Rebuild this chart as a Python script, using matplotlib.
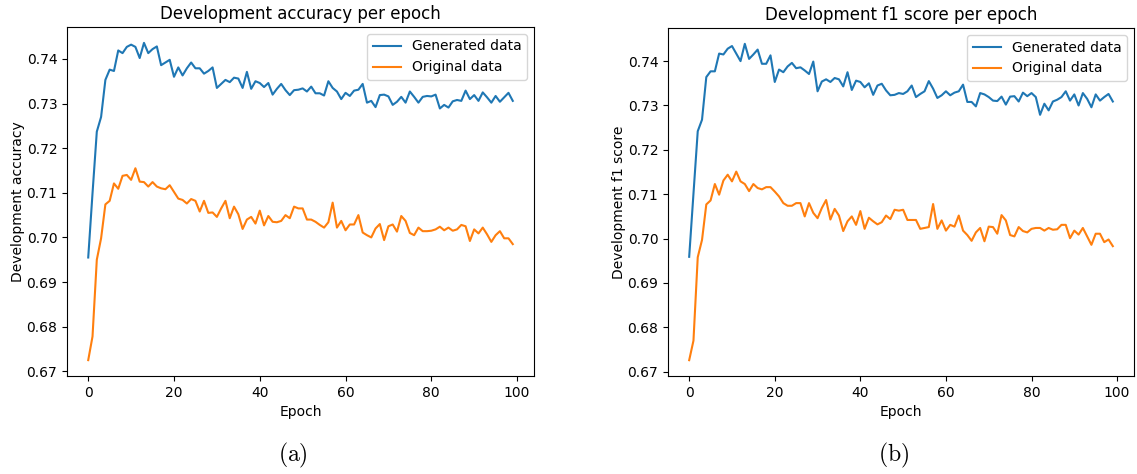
import matplotlib
matplotlib.use("Agg")
import matplotlib.pyplot as plt
import numpy as np

epochs = list(range(100))

acc_generated = [
    0.6955, 0.7099, 0.7237, 0.7270, 0.7353, 0.7376, 0.7373, 0.7419, 0.7413, 0.7427,
    0.7432, 0.7427, 0.7402, 0.7436, 0.7413, 0.7422, 0.7428, 0.7386, 0.7392, 0.7398,
    0.7360, 0.7381, 0.7363, 0.7379, 0.7392, 0.7379, 0.7379, 0.7367, 0.7373, 0.7381,
    0.7335, 0.7344, 0.7353, 0.7348, 0.7358, 0.7356, 0.7335, 0.7371, 0.7333, 0.7350,
    0.7346, 0.7337, 0.7346, 0.7320, 0.7333, 0.7344, 0.7330, 0.7319, 0.7330, 0.7331,
    0.7334, 0.7327, 0.7338, 0.7323, 0.7323, 0.7318, 0.7350, 0.7335, 0.7327, 0.7310,
    0.7324, 0.7317, 0.7329, 0.7331, 0.7344, 0.7302, 0.7306, 0.7292, 0.7319, 0.7320,
    0.7316, 0.7297, 0.7304, 0.7315, 0.7302, 0.7327, 0.7315, 0.7302, 0.7315, 0.7317,
    0.7316, 0.7320, 0.7289, 0.7297, 0.7291, 0.7305, 0.7308, 0.7306, 0.7329, 0.7310,
    0.7319, 0.7306, 0.7325, 0.7314, 0.7302, 0.7317, 0.7304, 0.7314, 0.7324, 0.7306,
]

acc_original = [
    0.6725, 0.6778, 0.6950, 0.6998, 0.7074, 0.7082, 0.7121, 0.7109, 0.7138, 0.7140,
    0.7129, 0.7155, 0.7125, 0.7124, 0.7114, 0.7124, 0.7114, 0.7110, 0.7108, 0.7117,
    0.7102, 0.7087, 0.7084, 0.7076, 0.7086, 0.7082, 0.7058, 0.7082, 0.7055, 0.7056,
    0.7046, 0.7065, 0.7082, 0.7043, 0.7069, 0.7052, 0.7019, 0.7040, 0.7046, 0.7031,
    0.7060, 0.7027, 0.7048, 0.7035, 0.7034, 0.7037, 0.7050, 0.7043, 0.7069, 0.7065,
    0.7065, 0.7040, 0.7040, 0.7035, 0.7028, 0.7022, 0.7034, 0.7078, 0.7022, 0.7037,
    0.7016, 0.7029, 0.7029, 0.7050, 0.7011, 0.7005, 0.7000, 0.7020, 0.7030, 0.6994,
    0.7025, 0.7029, 0.7013, 0.7048, 0.7037, 0.7010, 0.7005, 0.7022, 0.7014, 0.7014,
    0.7015, 0.7018, 0.7024, 0.7016, 0.7022, 0.7015, 0.7018, 0.7028, 0.7025, 0.6992,
    0.7018, 0.7009, 0.7022, 0.7007, 0.6990, 0.7005, 0.7014, 0.6998, 0.6998, 0.6985,
]

f1_generated = [
    0.6959, 0.7101, 0.7242, 0.7268, 0.7364, 0.7377, 0.7377, 0.7417, 0.7415, 0.7428,
    0.7434, 0.7417, 0.7400, 0.7439, 0.7405, 0.7415, 0.7426, 0.7394, 0.7394, 0.7413,
    0.7353, 0.7381, 0.7375, 0.7388, 0.7396, 0.7384, 0.7386, 0.7379, 0.7371, 0.7399,
    0.7332, 0.7354, 0.7359, 0.7353, 0.7362, 0.7359, 0.7343, 0.7375, 0.7335, 0.7356,
    0.7353, 0.7341, 0.7350, 0.7324, 0.7345, 0.7349, 0.7334, 0.7323, 0.7324, 0.7328,
    0.7326, 0.7332, 0.7345, 0.7319, 0.7326, 0.7332, 0.7355, 0.7338, 0.7317, 0.7323,
    0.7332, 0.7323, 0.7329, 0.7332, 0.7347, 0.7308, 0.7308, 0.7298, 0.7328, 0.7325,
    0.7319, 0.7311, 0.7310, 0.7320, 0.7302, 0.7320, 0.7321, 0.7309, 0.7329, 0.7321,
    0.7328, 0.7319, 0.7279, 0.7304, 0.7289, 0.7309, 0.7313, 0.7319, 0.7332, 0.7311,
    0.7325, 0.7300, 0.7328, 0.7315, 0.7296, 0.7325, 0.7311, 0.7319, 0.7326, 0.7309,
]

f1_original = [
    0.6726, 0.6770, 0.6958, 0.6997, 0.7077, 0.7086, 0.7123, 0.7099, 0.7131, 0.7144,
    0.7129, 0.7151, 0.7129, 0.7123, 0.7107, 0.7123, 0.7114, 0.7111, 0.7116, 0.7116,
    0.7106, 0.7095, 0.7080, 0.7074, 0.7074, 0.7080, 0.7080, 0.7050, 0.7080, 0.7058,
    0.7046, 0.7069, 0.7087, 0.7043, 0.7067, 0.7052, 0.7017, 0.7039, 0.7050, 0.7031,
    0.7062, 0.7022, 0.7047, 0.7039, 0.7032, 0.7037, 0.7052, 0.7044, 0.7065, 0.7063,
    0.7065, 0.7042, 0.7042, 0.7042, 0.7022, 0.7024, 0.7026, 0.7078, 0.7022, 0.7041,
    0.7018, 0.7031, 0.7027, 0.7052, 0.7018, 0.7008, 0.6995, 0.7014, 0.7024, 0.6994,
    0.7027, 0.7026, 0.7011, 0.7053, 0.7041, 0.7008, 0.7005, 0.7026, 0.7017, 0.7014,
    0.7022, 0.7024, 0.7024, 0.7018, 0.7024, 0.7020, 0.7021, 0.7031, 0.7031, 0.7001,
    0.7018, 0.7009, 0.7024, 0.7005, 0.6986, 0.7011, 0.7011, 0.6992, 0.6998, 0.6983,
]

series_labels = ["Generated data", "Original data"]
titles = ["Development accuracy per epoch", "Development f1 score per epoch"]
ylabels = ["Development accuracy", "Development f1 score"]
xlabel = "Epoch"
captions = [r"$\mathrm{(a)}$", r"$\mathrm{(b)}$"]

plt.rcParams["mathtext.fontset"] = "cm"

W, H = 1137, 474
fig = plt.figure(figsize=(W / 100, H / 100), dpi=100)

def frac(l, t, r, b):
    return [l / W, 1 - b / H, (r - l) / W, (b - t) / H]

ax1 = fig.add_axes(frac(67, 27, 534, 376))
ax2 = fig.add_axes(frac(668, 28, 1134, 376))

caption_x = [293, 894]

for ax, gen, orig, title, ylab, cap, cx in [
    (ax1, acc_generated, acc_original, titles[0], ylabels[0], captions[0], caption_x[0]),
    (ax2, f1_generated, f1_original, titles[1], ylabels[1], captions[1], caption_x[1]),
]:
    ax.plot(epochs, gen, color="#1f77b4", label=series_labels[0])
    ax.plot(epochs, orig, color="#ff7f0e", label=series_labels[1])
    ax.set_title(title, fontsize=12)
    ax.set_xlabel(xlabel)
    ax.set_ylabel(ylab, labelpad=1)
    ax.legend(loc="upper right")
    ax.set_xticks([0, 20, 40, 60, 80, 100])
    fig.text(cx / W, 1 - 455 / H, cap, ha="center", va="center", fontsize=17)

fig.savefig("out.png", dpi=100)
